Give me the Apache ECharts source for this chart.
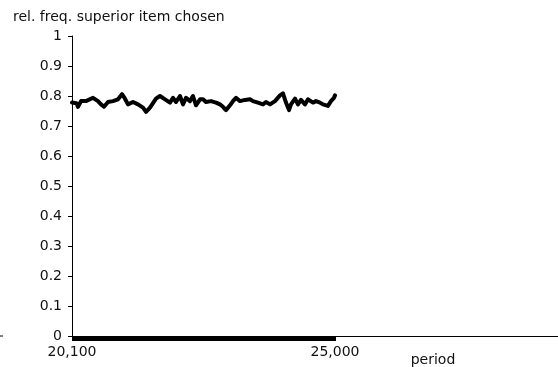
<!DOCTYPE html>
<html>
<head>
<meta charset="utf-8">
<script src="https://cdn.jsdelivr.net/npm/echarts@6/dist/echarts.min.js"></script>
<style>
  html, body { margin: 0; padding: 0; background: #fff; }
  #chart { width: 558px; height: 367px; }
</style>
</head>
<body>
<div id="chart"></div>
<script>
// Observation window (periods) and the relative frequency with which the superior item was chosen
const periods = [
  20100, 20119, 20180, 20212, 20268, 20361, 20491, 20584, 20640, 20696,
  20771, 20864, 20957, 21032, 21087, 21143, 21236, 21330, 21423, 21479,
  21553, 21609, 21665, 21739, 21758, 21833, 21926, 21982, 22038, 22112,
  22168, 22224, 22298, 22354, 22410, 22485, 22541, 22596, 22690, 22783,
  22857, 22913, 22969, 23044, 23099, 23155, 23230, 23323, 23416, 23472,
  23565, 23658, 23714, 23789, 23882, 23975, 24031, 24087, 24143, 24180,
  24255, 24310, 24366, 24441, 24497, 24590, 24646, 24720, 24776, 24869,
  24925, 24981, 25000
];
const relFreq = [
  0.778, 0.783, 0.776, 0.764, 0.783, 0.783, 0.794, 0.783, 0.772, 0.764,
  0.780, 0.783, 0.789, 0.806, 0.791, 0.772, 0.780, 0.772, 0.761, 0.747,
  0.761, 0.776, 0.791, 0.800, 0.794, 0.789, 0.778, 0.794, 0.780, 0.800,
  0.772, 0.794, 0.783, 0.800, 0.769, 0.789, 0.789, 0.780, 0.783, 0.778,
  0.772, 0.764, 0.753, 0.769, 0.783, 0.794, 0.783, 0.787, 0.789, 0.783,
  0.778, 0.772, 0.780, 0.772, 0.783, 0.802, 0.809, 0.778, 0.753, 0.772,
  0.791, 0.772, 0.787, 0.772, 0.789, 0.778, 0.783, 0.778, 0.772, 0.767,
  0.783, 0.794, 0.802
];

// Axis labels and ranges
const xLabelValues = [20100, 25000];
const xMin = 20100;
const xMax = 29155;
const firstPeriod = 20100;
const lastPeriod = 25000;
const periodTickStep = 10;

// one tick per sampled period along the observed window
const periodTicks = [];
for (let p = firstPeriod; p <= lastPeriod; p += periodTickStep) periodTicks.push(p);

const fontFamily = '"DejaVu Sans", sans-serif';
const fontSize = 14;
const textColor = '#111';

const chart = echarts.init(document.getElementById('chart'), null, { renderer: 'canvas' });

chart.setOption({
  animation: false,
  backgroundColor: '#fff',
  title: {
    text: 'rel. freq. superior item chosen',
    left: 13,
    top: 10,
    padding: 0,
    textStyle: { fontFamily, fontSize, fontWeight: 'normal', color: textColor }
  },
  grid: { left: 72, right: 0, top: 36, bottom: 31, containLabel: false, outerBoundsMode: 'none' },
  xAxis: {
    type: 'value',
    min: xMin,
    max: xMax,
    name: 'period',
    nameLocation: 'middle',
    nameGap: 17,
    nameMoveOverlap: false,
    nameTextStyle: { fontFamily, fontSize, color: textColor, padding: [0, 0, 0, 236] },
    axisLine: { show: true, onZero: false, lineStyle: { color: '#000', width: 1 } },
    axisTick: {
      show: true,
      inside: false,
      length: 5,
      customValues: periodTicks,
      lineStyle: { color: '#000', width: 1 }
    },
    axisLabel: {
      show: true,
      margin: 9,
      customValues: xLabelValues,
      fontFamily,
      fontSize,
      color: textColor,
      formatter: v => v.toLocaleString('en-US')
    },
    splitLine: { show: false }
  },
  yAxis: {
    type: 'value',
    min: 0,
    max: 1,
    interval: 0.1,
    axisLine: { show: true, lineStyle: { color: '#000', width: 1 } },
    axisTick: { show: true, inside: false, length: 4, lineStyle: { color: '#000', width: 1 } },
    axisLabel: {
      margin: 10,
      fontFamily,
      fontSize,
      color: textColor,
      formatter: v => String(Math.round(v * 10) / 10)
    },
    splitLine: { show: false }
  },
  graphic: [
    {
      type: 'line',
      shape: { x1: 0, y1: 336, x2: 3, y2: 336 },
      style: { stroke: '#000', lineWidth: 1 }
    }
  ],
  series: [
    {
      type: 'line',
      data: periods.map((p, i) => [p, relFreq[i]]),
      showSymbol: false,
      symbol: 'none',
      smooth: false,
      lineStyle: { color: '#000', width: 4, join: 'round', cap: 'round' },
      clip: false
    }
  ]
});
</script>
</body>
</html>
